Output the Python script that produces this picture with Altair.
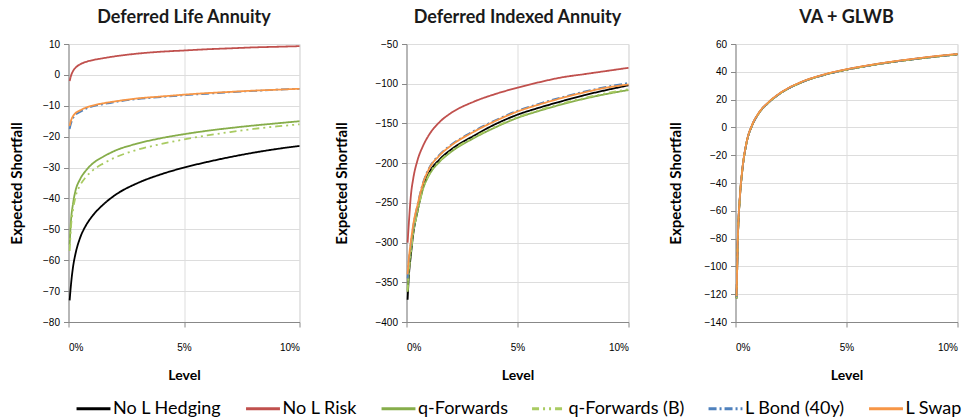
import altair as alt
import pandas as pd

levels = [0.0005, 0.001, 0.002, 0.003, 0.005, 0.0075, 0.01, 0.015, 0.02,
          0.03, 0.04, 0.05, 0.06, 0.07, 0.08, 0.09, 0.10]
series_names = ["No L Hedging", "No L Risk", "q-Forwards", "q-Forwards (B)",
                "L Bond (40y)", "L Swap"]
series_colors = ["#000000", "#C0504D", "#86AD4A", "#A9CB62", "#4F81BD", "#F79646"]
series_dashes = [[1, 0], [1, 0], [1, 0], [7, 4, 2, 4, 2, 4], [8, 3, 2, 3], [1, 0]]

# Deferred Life Annuity
dla_no_hedging = [-73, -68.5, -62, -58, -52.8, -48.8, -46, -42, -39, -35, -32.2, -30.0, -28.2, -26.6, -25.2, -24.0, -23]
dla_no_risk = [-2, -0.5, 1.3, 2.3, 3.4, 4.2, 4.7, 5.4, 6.0, 6.9, 7.5, 7.9, 8.3, 8.6, 8.9, 9.1, 9.3]
dla_qfwd = [-55, -48, -41.5, -37.6, -33.8, -31.0, -29, -26.5, -24.6, -22.2, -20.5, -19.2, -18.1, -17.2, -16.4, -15.7, -15]
dla_qfwd_b = [-57, -50, -43.5, -39.6, -35.8, -33.1, -31.2, -28.7, -26.8, -24.2, -22.4, -20.9, -19.6, -18.5, -17.5, -16.7, -16]
dla_lbond = [-17.5, -16, -14, -13, -12, -11, -10.3, -9.5, -8.8, -7.8, -7.2, -6.6, -6.1, -5.6, -5.2, -4.8, -4.5]
dla_lswap = [-16.5, -15, -13.3, -12.4, -11.5, -10.6, -10, -9.2, -8.6, -7.6, -7, -6.4, -5.9, -5.5, -5.1, -4.8, -4.5]

# Deferred Indexed Annuity
dia_no_hedging = [-372, -345, -315, -290, -260, -230, -213, -195, -183, -166, -151, -139, -130, -122, -114.5, -108, -102]
dia_no_risk = [-300, -278, -240, -220, -196, -178, -165, -148, -137, -123, -113, -105, -98, -92, -88, -84, -80]
dia_qfwd = [-360, -338, -310, -288, -260, -232, -216, -198, -186, -169, -155, -143, -134, -126, -119, -113, -108]
dia_qfwd_b = [-362, -340, -312, -289, -261, -232, -215, -197, -185, -168, -154, -142, -133, -125, -118, -112, -107]
dia_lbond = [-345, -325, -300, -280, -252, -224, -207, -189, -177, -160, -146, -134, -125, -117, -110, -104, -99]
dia_lswap = [-340, -322, -298, -278, -252, -225, -208, -190, -178, -161, -147, -135, -126, -118, -111, -105, -101]

# VA + GLWB
va_no_hedging = [-123, -84, -50, -32, -11, 1.5, 9, 18, 24.3, 32.6, 37.8, 41.5, 44.4, 46.9, 49, 50.9, 52.5]
va_no_risk = [-122.5, -83.5, -49.6, -31.7, -10.7, 1.7, 9.2, 18.2, 24.5, 32.8, 38, 41.7, 44.6, 47.1, 49.2, 51.1, 52.7]
va_qfwd = [-123, -84, -50, -32, -11, 1.5, 9, 18, 24.3, 32.6, 37.8, 41.5, 44.4, 46.9, 49, 50.9, 52.5]
va_qfwd_b = [-123, -84, -50, -32, -11, 1.5, 9, 18, 24.3, 32.6, 37.8, 41.5, 44.4, 46.9, 49, 50.9, 52.5]
va_lbond = [-122, -83, -49.5, -31.6, -10.8, 1.6, 9.1, 18.1, 24.4, 32.7, 37.9, 41.6, 44.5, 47, 49.1, 51, 52.6]
va_lswap = [-121.5, -82.5, -49.2, -31.3, -10.6, 1.8, 9.3, 18.3, 24.6, 32.9, 38.1, 41.8, 44.7, 47.2, 49.3, 51.2, 52.8]


def make_df(values_list):
    rows = []
    for name, vals in zip(series_names, values_list):
        for lv, v in zip(levels, vals):
            rows.append({"series": name, "level": lv, "value": v})
    return pd.DataFrame(rows)


FONT = "Lato"

legend_props = dict(orient="none", legendX=6.5, legendY=346,
                    direction="horizontal", columns=6, title=None,
                    symbolType="stroke", symbolSize=1150,
                    symbolStrokeWidth=3, labelFontSize=18,
                    labelFont=FONT, labelColor="#000000",
                    labelOffset=1, columnPadding=17.5)


def panel(df, title, ymin, ymax, step, width, title_padding, show_legend):
    leg = alt.Legend(**legend_props) if show_legend else None
    return alt.Chart(df, title=alt.TitleParams(
        title, fontSize=18, font=FONT, fontWeight="bold", color="#1a1a1a", offset=12
    )).mark_line(strokeWidth=1.8, interpolate="monotone").encode(
        x=alt.X("level:Q",
                scale=alt.Scale(domain=[0, 0.1], nice=False),
                axis=alt.Axis(values=[0, 0.05, 0.1], format=".0%", title="Level",
                              labelPadding=15, titlePadding=16, titleFontSize=14,
                              titleFont=FONT, titleFontWeight="bold")),
        y=alt.Y("value:Q",
                scale=alt.Scale(domain=[ymin, ymax], nice=False, zero=False),
                axis=alt.Axis(values=list(range(ymin, ymax + 1, step)),
                              title="Expected Shortfall", titlePadding=title_padding,
                              titleFontSize=15, titleFont=FONT, titleFontWeight="bold",
                              labelPadding=4)),
        color=alt.Color("series:N",
                        scale=alt.Scale(domain=series_names, range=series_colors),
                        legend=leg),
        strokeDash=alt.StrokeDash("series:N",
                                  scale=alt.Scale(domain=series_names, range=series_dashes),
                                  legend=leg),
    ).properties(width=width, height=278)


p1 = panel(make_df([dla_no_hedging, dla_no_risk, dla_qfwd, dla_qfwd_b, dla_lbond, dla_lswap]),
           "Deferred Life Annuity", -80, 10, 10, 231, 18.5, True)
p2 = panel(make_df([dia_no_hedging, dia_no_risk, dia_qfwd, dia_qfwd_b, dia_lbond, dia_lswap]),
           "Deferred Indexed Annuity", -400, -50, 50, 222, 25.5, False)
p3 = panel(make_df([va_no_hedging, va_no_risk, va_qfwd, va_qfwd_b, va_lbond, va_lswap]),
           "VA + GLWB", -140, 60, 20, 222, 20.5, False)

chart = alt.hconcat(p1, p2, p3, spacing=107, bounds="flush").resolve_scale(
    color="independent", strokeDash="independent"
).properties(
    padding={"left": 8.5, "top": 8, "right": 0, "bottom": 0}
).configure_view(stroke=None).configure_axis(
    grid=False,
    domainColor="#868686", domainWidth=1.5,
    tickColor="#868686", tickWidth=1.5, tickSize=5,
    labelFont=FONT, labelFontSize=14, labelColor="#262626",
    titleFont=FONT, titleFontSize=15, titleFontWeight="bold", titleColor="#1a1a1a",
).configure(background="white")

chart.save("out.html", embed_options={"renderer": "svg", "actions": False})
